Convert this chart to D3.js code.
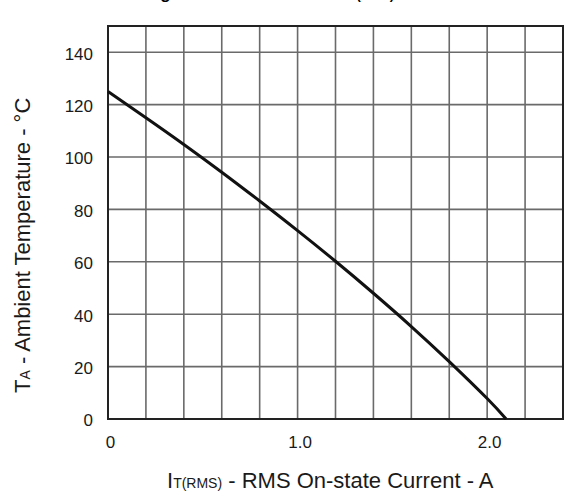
<!DOCTYPE html>
<html lang="en">
<head>
<meta charset="UTF-8">
<title>Ambient Temperature vs RMS On-state Current</title>
<script src="https://d3js.org/d3.v7.min.js"></script>
<style>
  body { margin: 0; background: #fff; }
  text { font-family: "Liberation Sans", Arial, sans-serif; fill: #1a1a1a; }
</style>
</head>
<body>
<script>
// derating curve
const current = [0, 0.2, 0.4, 0.6, 0.8, 1.0, 1.2, 1.4, 1.6, 1.8, 2.0, 2.1];
const tempA = [125, 115, 104.8, 94.2, 83.2, 71.9, 60.2, 48, 35.3, 21.9, 7.8, 0];
const xTicks = [0, 1.0, 2.0];
const xTickLabels = ["0", "1.0", "2.0"];
const yTicks = [0, 20, 40, 60, 80, 100, 120, 140];
const xGrid = d3.range(1, 12).map(i => i * 0.2);

const width = 570, height = 498;
const plotLeft = 108, plotRight = 563, plotTop = 26, plotBottom = 419;

const svg = d3.select("body").append("svg")
    .attr("width", width)
    .attr("height", height);

const x = d3.scaleLinear().domain([0, 2.4]).range([plotLeft, plotRight]);
const y = d3.scaleLinear().domain([0, 150]).range([plotBottom, plotTop]);

// title, cut off at the top of the picture like the source
const title = svg.append("text")
    .attr("x", 394).attr("y", -1)
    .attr("text-anchor", "end")
    .attr("font-size", 17).attr("font-weight", "bold")
    .style("fill", "#000");
title.append("tspan").text("Current Derating Curves: Ambient vs. I");
title.append("tspan").attr("font-size", 13).text("T(RMS)");

// grid
svg.append("g").selectAll("line")
    .data(xGrid)
    .enter().append("line")
    .attr("x1", d => x(d)).attr("x2", d => x(d))
    .attr("y1", plotTop).attr("y2", plotBottom)
    .attr("stroke", "#6a6a6a").attr("stroke-width", 1.6);

svg.append("g").selectAll("line")
    .data(yTicks.slice(1))
    .enter().append("line")
    .attr("x1", plotLeft).attr("x2", plotRight)
    .attr("y1", d => y(d)).attr("y2", d => y(d))
    .attr("stroke", "#6a6a6a").attr("stroke-width", 1.6);

// frame
svg.append("rect")
    .attr("x", plotLeft).attr("y", plotTop)
    .attr("width", plotRight - plotLeft).attr("height", plotBottom - plotTop)
    .attr("fill", "none").attr("stroke", "#222").attr("stroke-width", 2);

// axes (labels only)
const xAxis = d3.axisBottom(x)
    .tickValues(xTicks)
    .tickFormat((d, i) => xTickLabels[i])
    .tickSize(0).tickPadding(17);
svg.append("g")
    .attr("transform", "translate(0," + plotBottom + ")")
    .call(xAxis)
    .call(g => g.select(".domain").remove())
    .selectAll("text")
    .attr("font-size", 17).attr("font-family", null)
    .attr("dx", 2);

const yAxis = d3.axisLeft(y)
    .tickValues(yTicks)
    .tickSize(0).tickPadding(15);
svg.append("g")
    .attr("transform", "translate(" + plotLeft + ",0)")
    .call(yAxis)
    .call(g => g.select(".domain").remove())
    .selectAll("text")
    .attr("font-size", 17).attr("font-family", null)
    .attr("dy", "0.4em");

// curve
const line = d3.line()
    .x((d, i) => x(current[i]))
    .y(d => y(d))
    .curve(d3.curveNatural);

svg.append("path")
    .datum(tempA)
    .attr("d", line)
    .attr("fill", "none")
    .attr("stroke", "#111")
    .attr("stroke-width", 3);

// axis titles
const xt = svg.append("text")
    .attr("x", 167).attr("y", 488)
    .attr("font-size", 22);
xt.append("tspan").text("I");
xt.append("tspan").attr("font-size", 14).text("T(RMS)");
xt.append("tspan").text(" - RMS On-state Current - A");

const yt = svg.append("text")
    .attr("transform", "translate(30,393) rotate(-90)")
    .attr("font-size", 22);
yt.append("tspan").text("T");
yt.append("tspan").attr("font-size", 14).text("A");
yt.append("tspan").text(" - Ambient Temperature - °C");
</script>
</body>
</html>
